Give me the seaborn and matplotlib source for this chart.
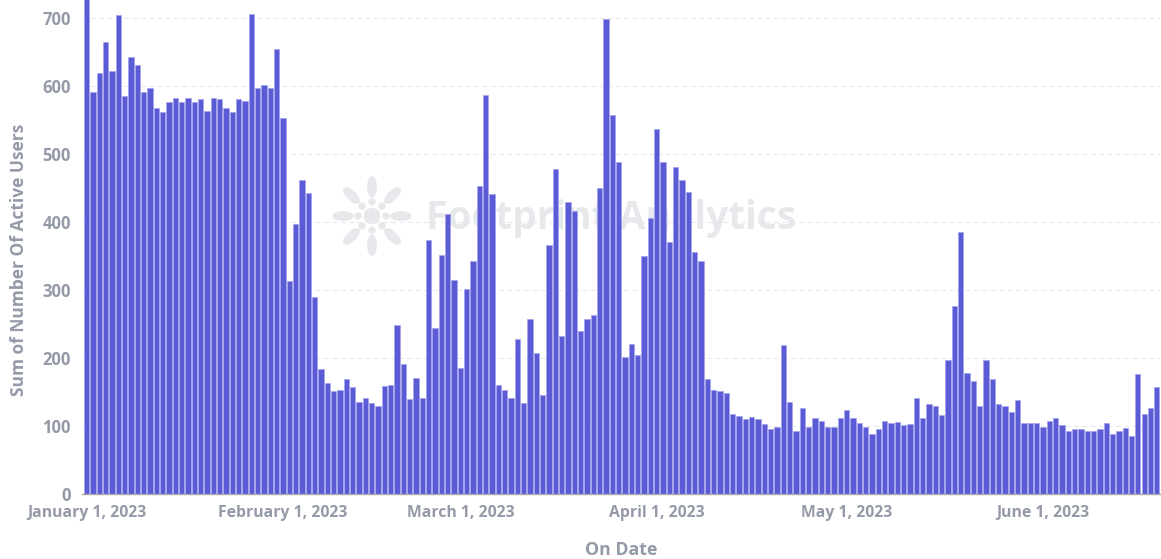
import matplotlib
matplotlib.use("Agg")
import matplotlib.pyplot as plt
from matplotlib.patches import Ellipse, Circle
import numpy as np
import pandas as pd
import seaborn as sns

# daily active users (Jan 1 - Jun 19, 2023)
jan_feb = [740, 591, 620, 665, 622, 705, 585, 643, 632, 591, 597, 568, 562, 577, 583, 577,
           583, 577, 581, 564, 583, 581, 568, 562, 581, 579, 707, 597, 602, 597, 655, 553]
feb_mar = [313, 397, 462, 443, 290, 184, 163, 151, 153, 169, 157, 136, 142, 134, 130, 159,
           161, 249, 192, 140, 171, 142, 374, 244, 352, 412, 315, 186, 301, 343, 454, 587,
           441, 161, 153, 142, 228, 134, 257, 207, 146]
mar_apr = [367, 479, 232, 429, 416, 240, 257, 263, 450, 699, 558, 489, 201, 221, 205, 350,
           406, 537, 489, 371, 481, 462, 445, 356, 343, 169, 153, 151, 149, 117, 115, 111,
           113, 110, 103]
apr_jun = [95, 99, 220, 135, 93, 126, 99, 112, 108, 99, 99, 112, 124, 112, 104, 99, 89, 95,
           108, 104, 106, 101, 103, 141, 112, 132, 130, 116, 197, 276, 386, 178, 167, 130,
           197, 169, 132, 130, 120, 139, 105, 105, 105, 99, 107, 112, 101, 93, 95, 95, 93,
           93, 95, 105, 89, 93, 97, 85, 176, 118, 126, 157]

active_users = jan_feb + feb_mar + mar_apr + apr_jun
dates = pd.date_range("2023-01-01", periods=len(active_users), freq="D")

tick_dates = ["2023-01-01", "2023-02-01", "2023-03-01", "2023-04-01", "2023-05-01", "2023-06-01"]
tick_labels = ["January 1, 2023", "February 1, 2023", "March 1, 2023",
               "April 1, 2023", "May 1, 2023", "June 1, 2023"]
y_ticks = [0, 100, 200, 300, 400, 500, 600, 700]

df = pd.DataFrame({"On Date": dates.strftime("%Y-%m-%d"), "Users": active_users})

sns.set_style("white")
plt.rcParams["font.family"] = ["Open Sans", "DejaVu Sans"]

text_grey = "#959aa8"
bar_color = "#5b5bd6"

fig = plt.figure(figsize=(11.61, 5.59), dpi=100)
ax = fig.add_axes([82 / 1161, 65 / 559, 1078 / 1161, 494 / 559])

sns.barplot(data=df, x="On Date", y="Users", color=bar_color, saturation=1,
            width=0.84, edgecolor="#a3a3ee", linewidth=0.5, ax=ax, zorder=2)

ax.set_ylim(0, 727)
ax.set_xlim(-0.75, len(active_users) - 0.5)

# grid and spines
ax.set_yticks(y_ticks)
ax.yaxis.grid(True, color="#e9e9ec", linewidth=0.8, linestyle=(0, (4.5, 3)), zorder=0)
ax.set_axisbelow(True)
for s in ["top", "right", "left"]:
    ax.spines[s].set_visible(False)
ax.spines["bottom"].set_color("#a5a5a5")
ax.spines["bottom"].set_linewidth(1.0)

# ticks
date_list = list(df["On Date"])
ax.set_xticks([date_list.index(d) for d in tick_dates])
ax.set_xticklabels(tick_labels)
ax.tick_params(axis="x", length=0, pad=8, labelsize=11.3, labelcolor=text_grey)
ax.tick_params(axis="y", length=0, pad=8, labelsize=12, labelcolor=text_grey)
for lab in ax.get_xticklabels() + ax.get_yticklabels():
    lab.set_fontweight("bold")

ax.set_xlabel("On Date", fontsize=12.8, color=text_grey, fontweight="bold")
ax.set_ylabel("Sum of Number Of Active Users", fontsize=12.5, color=text_grey,
              fontweight="bold")
ax.xaxis.set_label_coords(0.5, -0.095)
ax.yaxis.set_label_coords(-0.050, 0.474)

# watermark
wm = "#e7e8eb"
tr = fig.dpi_scale_trans
cx, cy = 3.72, 3.43
ax.add_patch(Circle((cx, cy), 0.075, color=wm, transform=tr, zorder=1))
for a in np.arange(0, 360, 45):
    r = np.deg2rad(a)
    ax.add_patch(Circle((cx + 0.14 * np.cos(r), cy + 0.14 * np.sin(r)), 0.03,
                        color=wm, transform=tr, zorder=1))
    ax.add_patch(Ellipse((cx + 0.29 * np.cos(r), cy + 0.29 * np.sin(r)), 0.2, 0.085,
                         angle=a, color=wm, transform=tr, zorder=1))
ax.text(4.26, 3.40, "Footprint Analytics", transform=tr, fontsize=28, fontweight="bold",
        color=wm, va="center", ha="left", zorder=1)

fig.savefig("out.png", dpi=100)
